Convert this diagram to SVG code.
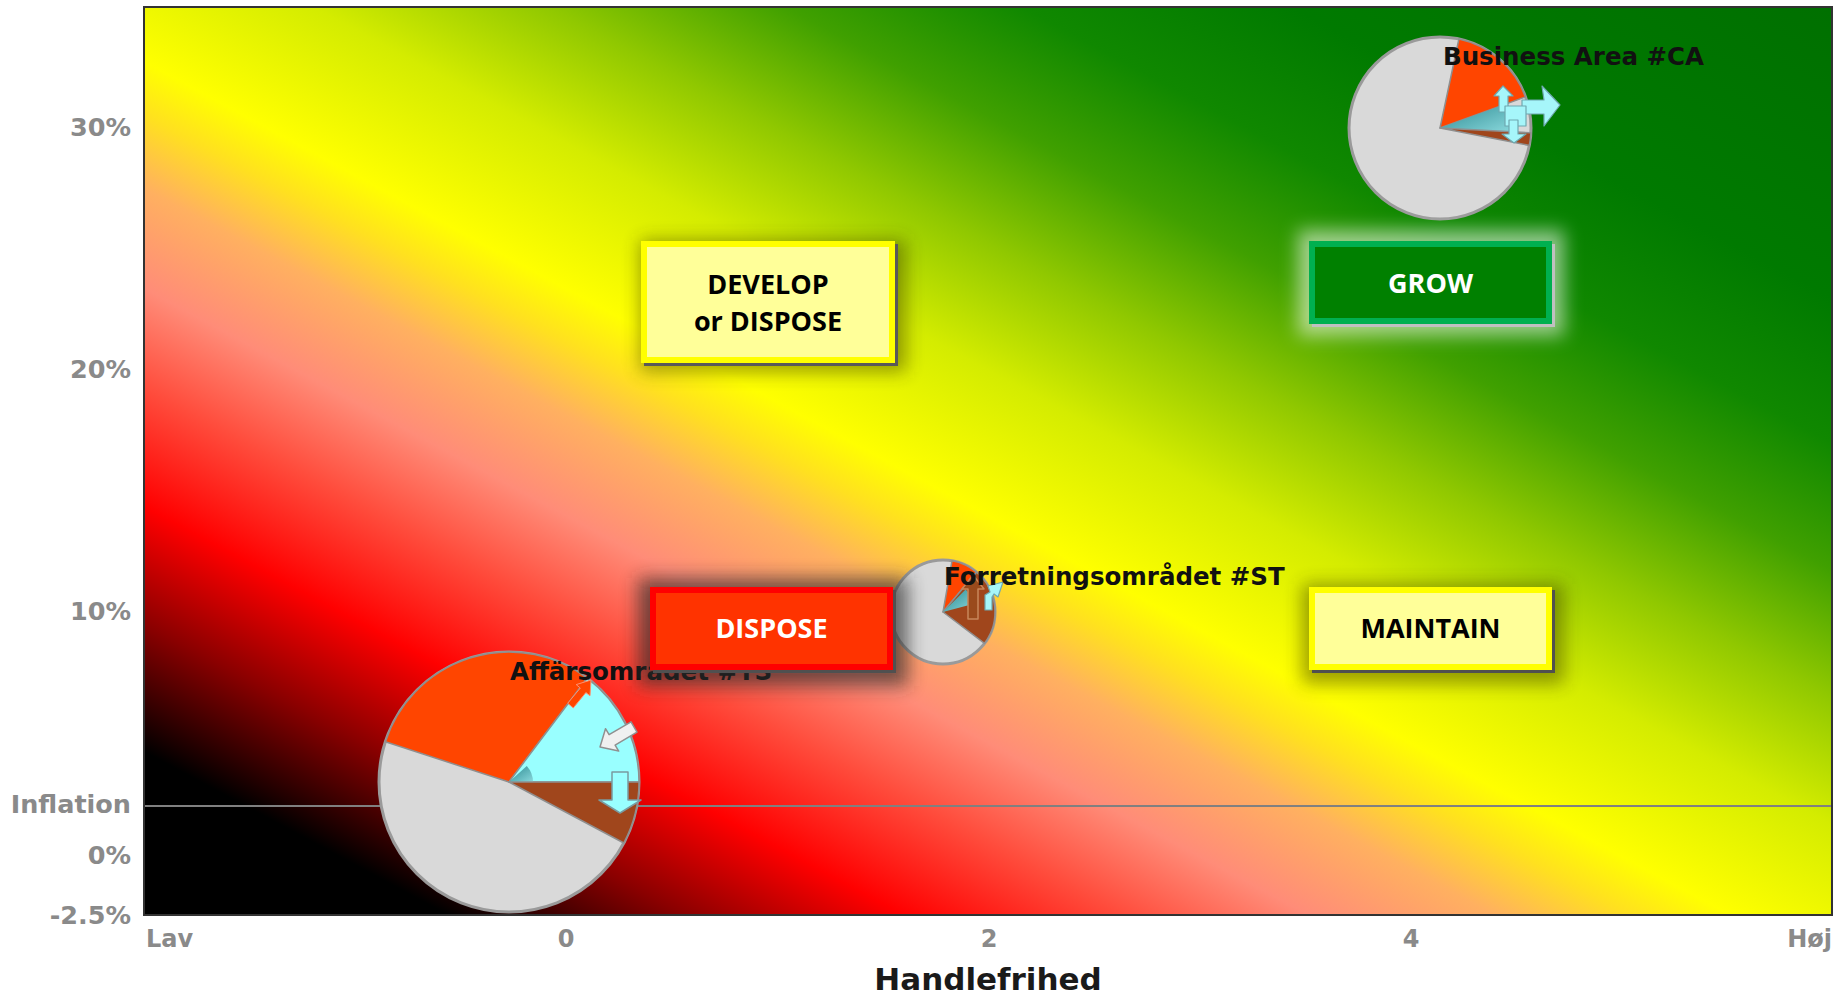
<svg xmlns="http://www.w3.org/2000/svg" width="1839" height="996" viewBox="0 0 1839 996">
<defs>
<linearGradient id="bg" x1="0" y1="1" x2="1" y2="0">
<stop offset="0" stop-color="#000000"/>
<stop offset="0.09" stop-color="#000000"/>
<stop offset="0.16" stop-color="#8a0000"/>
<stop offset="0.225" stop-color="#ff0000"/>
<stop offset="0.29" stop-color="#ff4c3c"/>
<stop offset="0.345" stop-color="#ff8c78"/>
<stop offset="0.40" stop-color="#ffb060"/>
<stop offset="0.44" stop-color="#ffe020"/>
<stop offset="0.47" stop-color="#ffff00"/>
<stop offset="0.55" stop-color="#d4ec00"/>
<stop offset="0.62" stop-color="#90c800"/>
<stop offset="0.69" stop-color="#40a000"/>
<stop offset="0.76" stop-color="#108800"/>
<stop offset="0.84" stop-color="#007a00"/>
<stop offset="1" stop-color="#007000"/>
</linearGradient>
<linearGradient id="teal" x1="0" y1="0" x2="1" y2="1">
<stop offset="0" stop-color="#2a8890"/>
<stop offset="1" stop-color="#8ad8dc"/>
</linearGradient>
<filter id="blur" x="-30%" y="-60%" width="160%" height="220%">
<feGaussianBlur stdDeviation="9"/>
</filter>
<style>
.axis{font-family:"DejaVu Sans",Verdana,sans-serif;font-weight:bold;font-size:25.5px;fill:#8a8a8a}
.xax{font-family:"DejaVu Sans",Verdana,sans-serif;font-weight:bold;font-size:24px;fill:#8a8a8a}
.title{font-family:"DejaVu Sans",Verdana,sans-serif;font-weight:bold;font-size:31px;fill:#1a1a1a}
.lbl{font-family:"DejaVu Sans",Verdana,sans-serif;font-weight:bold;font-size:24.5px;fill:#111}
.box{font-family:"Open Sans","Liberation Sans",sans-serif;font-weight:bold;font-size:27px;text-anchor:middle}
.pie{fill:#d9d9d9;stroke:#9a9a9a;stroke-width:3}
.sl{stroke:#8f8f8f;stroke-width:1.5;stroke-linejoin:round}
.org{fill:#ff4500}
.cyn{fill:#99ffff}
.brn{fill:#a0461c}
.tl{fill:url(#teal)}
.arr{fill:#a6f6fa;stroke:#6fa8b0;stroke-width:1.2;stroke-linejoin:round}
</style>
</defs>

<rect x="0" y="0" width="1839" height="996" fill="#ffffff"/>

<g id="plot">
<rect x="144" y="7" width="1688" height="908" fill="url(#bg)"/>
<line x1="144" y1="806" x2="1832" y2="806" stroke="#808080" stroke-width="2"/>
<rect x="144" y="7" width="1688" height="908" fill="none" stroke="#333333" stroke-width="2"/>
</g>

<g id="axes">
<text class="axis" x="131" y="136" text-anchor="end">30%</text>
<text class="axis" x="131" y="378" text-anchor="end">20%</text>
<text class="axis" x="131" y="620" text-anchor="end">10%</text>
<text class="axis" x="131" y="813" text-anchor="end">Inflation</text>
<text class="axis" x="131" y="864" text-anchor="end">0%</text>
<text class="axis" x="131" y="924" text-anchor="end">-2.5%</text>
<text class="xax" x="146" y="947">Lav</text>
<text class="xax" x="566" y="947" text-anchor="middle">0</text>
<text class="xax" x="989" y="947" text-anchor="middle">2</text>
<text class="xax" x="1411" y="947" text-anchor="middle">4</text>
<text class="xax" x="1832" y="947" text-anchor="end">Høj</text>
<text class="title" x="988" y="990" text-anchor="middle">Handlefrihed</text>
</g>

<g id="connectors"/>

<g id="pie-TS">
<circle class="pie" cx="509" cy="782" r="130"/>
<path class="sl org" d="M509,782 L385.4,741.8 A130,130 0 0 1 587.2,678.2 Z"/>
<path class="sl cyn" d="M509,782 L587.2,678.2 A130,130 0 0 1 639,782 Z"/>
<path class="tl" d="M509,782 L526.8,765.9 A24,24 0 0 1 533,782 Z"/>
<path class="sl brn" d="M509,782 L639,782 A130,130 0 0 1 623.8,843 Z"/>
<path d="M567.7,703.3 L580.3,688 L576.2,684.6 L591,680 L590,695.8 L585.9,692.6 L573.3,707.9 Z" fill="#ff4500" stroke="#ff9070" stroke-width="1"/>
<path d="M631,721.8 L609.1,734.7 L605.5,728.7 L600,747 L618.7,751.1 L615.1,745.1 L637,732.2 Z" fill="#f0f0f0" stroke="#909090" stroke-width="1.5" stroke-linejoin="round"/>
<path d="M612,772 L628,772 L628,800 L641,800 L620,813 L599,800 L612,800 Z" fill="#99ffff" stroke="#7a9aa0" stroke-width="1.5" stroke-linejoin="round"/>
<text class="lbl" x="510" y="680">Affärsområdet #TS</text>
</g>

<g id="pie-ST">
<circle class="pie" cx="943" cy="612" r="52"/>
<path class="sl org" d="M943,612 L952,560.8 A52,52 0 0 1 976.4,572.2 Z"/>
<path class="sl brn" d="M943,612 L976.4,572.2 A52,52 0 0 1 984.5,643.3 Z"/>
<path class="tl" d="M943,612 L965.6,589.4 A32,32 0 0 1 973.9,603.7 Z"/>
<path d="M973,575 L984,589 L978,589 L978,619 L968,619 L968,589 L962,589 Z" fill="#9a4a1c" stroke="#c8865a" stroke-width="1.5" stroke-linejoin="round"/>
<path d="M985,610 L985,595 L990,592 L988,586 L1003,582 L998,597 L994,594 L992,597 L992,610 Z" class="arr"/>
<text class="lbl" x="944" y="585">Forretningsområdet #ST</text>
</g>

<g id="pie-CA">
<circle class="pie" cx="1440" cy="128" r="91"/>
<path class="sl org" d="M1440,128 L1458.9,39 A91,91 0 0 1 1525.5,96.9 Z"/>
<path class="tl" d="M1440,128 L1507.7,103.4 A72,72 0 0 1 1511.9,131.8 Z"/>
<path class="sl brn" d="M1440,128 L1530.9,132.8 A91,91 0 0 1 1529.3,145.4 Z"/>
<path class="arr" d="M1503,86 L1513,96 L1508,96 L1508,112 L1499,112 L1499,96 L1494,96 Z"/>
<path class="arr" d="M1522,100 L1544,100 L1542,86 L1560,105 L1544,126 L1544,114 L1522,114 Z"/>
<rect class="arr" x="1505" y="106" width="21" height="20"/>
<path class="arr" d="M1509,120 L1518,120 L1518,134 L1526,134 L1514,143 L1502,134 L1509,134 Z"/>
<text class="lbl" x="1443" y="65">Business Area #CA</text>
</g>

<g id="develop-or-dispose">
<rect x="640" y="240" width="266" height="132" fill="#303000" opacity="0.45" filter="url(#blur)"/>
<rect x="644" y="244" width="254" height="122" fill="#595959"/>
<rect x="644" y="244" width="248" height="116" fill="#ffff99" stroke="#ffff00" stroke-width="6"/>
<text class="box" x="768" y="294" fill="#000">DEVELOP</text>
<text class="box" x="768" y="331" fill="#000">or DISPOSE</text>
</g>

<g id="grow">
<rect x="1298" y="230" width="266" height="106" fill="#ffffff" opacity="0.55" filter="url(#blur)"/>
<rect x="1312" y="244" width="243" height="83" fill="#c0c0c0"/>
<rect x="1312" y="244" width="237" height="77" fill="#008000" stroke="#00b050" stroke-width="6"/>
<text class="box" x="1430.5" y="293" fill="#ffffff">GROW</text>
</g>

<g id="dispose">
<rect x="638" y="578" width="270" height="108" fill="#2a2a2a" opacity="0.65" filter="url(#blur)"/>
<rect x="653" y="590" width="243" height="83" fill="#505050"/>
<rect x="653" y="590" width="237" height="77" fill="#ff3300" stroke="#ff0000" stroke-width="6"/>
<text class="box" x="771.5" y="638" fill="#ffffff">DISPOSE</text>
</g>

<g id="maintain">
<rect x="1302" y="584" width="262" height="100" fill="#303000" opacity="0.45" filter="url(#blur)"/>
<rect x="1312" y="590" width="243" height="83" fill="#505050"/>
<rect x="1312" y="590" width="237" height="77" fill="#ffff99" stroke="#ffff00" stroke-width="6"/>
<text class="box" x="1430.5" y="638" fill="#000">MAINTAIN</text>
</g>
</svg>
